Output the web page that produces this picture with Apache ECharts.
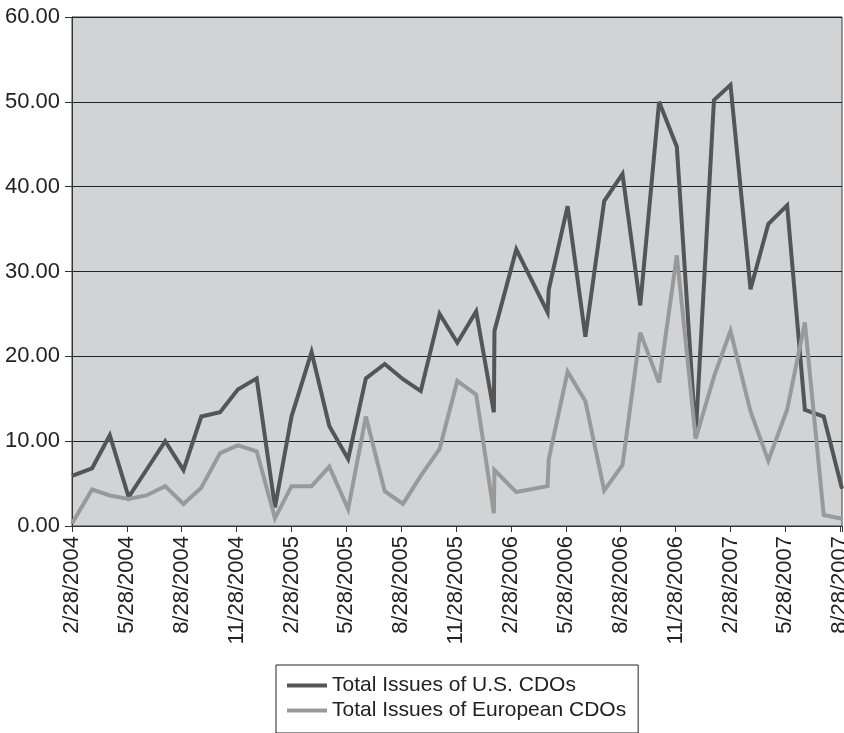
<!DOCTYPE html>
<html>
<head>
<meta charset="utf-8">
<script src="https://cdn.jsdelivr.net/npm/echarts@6/dist/echarts.min.js"></script>
<style>
  html, body { margin: 0; padding: 0; background: #ffffff; }
  #chart { width: 844px; height: 733px; }
</style>
</head>
<body>
<div id="chart"></div>
<script>
// Issue dates (mostly month-ends, with a few extra reporting dates)
const dates = [
  '2004-02-28', '2004-03-31', '2004-04-30', '2004-05-31', '2004-06-30', '2004-07-31',
  '2004-08-31', '2004-09-30', '2004-10-31', '2004-11-30', '2004-12-31', '2005-01-31',
  '2005-02-28', '2005-03-31', '2005-04-30', '2005-05-31', '2005-06-30', '2005-07-31',
  '2005-08-31', '2005-09-30', '2005-10-31', '2005-11-30', '2005-12-31', '2006-01-30',
  '2006-01-31', '2006-03-06', '2006-04-28', '2006-04-30', '2006-05-31', '2006-06-30',
  '2006-07-31', '2006-08-31', '2006-09-30', '2006-10-31', '2006-11-30', '2006-12-31',
  '2007-01-31', '2007-02-28', '2007-03-31', '2007-04-30', '2007-05-31', '2007-06-30',
  '2007-07-31', '2007-08-31'
];

// Total issues of U.S. CDOs
const usIssues = [
  5.9, 6.8, 10.7, 3.4, 6.6, 10.0,
  6.6, 12.9, 13.4, 16.1, 17.4, 2.2,
  12.9, 20.5, 11.8, 7.9, 17.4, 19.1,
  17.3, 15.9, 25.0, 21.6, 25.3, 13.4,
  23.0, 32.6, 25.2, 27.9, 37.7, 22.3,
  38.3, 41.5, 26.0, 50.0, 44.7, 10.6,
  50.2, 52.0, 27.9, 35.6, 37.8, 13.7,
  12.9, 4.4
];

// Total issues of European CDOs
const euIssues = [
  0.3, 4.3, 3.6, 3.2, 3.6, 4.7,
  2.6, 4.5, 8.6, 9.5, 8.8, 0.9,
  4.7, 4.7, 7.0, 2.0, 12.9, 4.1,
  2.6, 5.9, 9.1, 17.1, 15.5, 1.5,
  6.6, 4.0, 4.7, 7.9, 18.2, 14.7,
  4.2, 7.2, 22.8, 16.9, 31.9, 10.3,
  17.6, 23.0, 13.5, 7.7, 13.7, 24.0,
  1.3, 0.85
];

const seriesNames = ['Total Issues of U.S. CDOs', 'Total Issues of European CDOs'];
const yTicks = [0, 10, 20, 30, 40, 50, 60];

// Axis origin: 2/28/2004; one unit = one month, ticks every quarter on the 28th
const ORIGIN_YEAR = 2004, ORIGIN_MONTH = 2, TICK_DAY = 28;

function monthPos(s) {
  const [y, m, d] = s.split('-').map(Number);
  const dim = new Date(y, m, 0).getDate();
  return (y - ORIGIN_YEAR) * 12 + (m - ORIGIN_MONTH) + (d - TICK_DAY) / dim;
}

function tickLabel(v) {
  if (Math.abs(v / 3 - Math.round(v / 3)) > 1e-6) return '';
  const total = Math.round(v) + (ORIGIN_MONTH - 1);
  const year = ORIGIN_YEAR + Math.floor(total / 12);
  const month = (total % 12) + 1;
  return month + '/' + TICK_DAY + '/' + year;
}

const xs = dates.map(monthPos);
const usData = xs.map((x, i) => [x, usIssues[i]]);
const euData = xs.map((x, i) => [x, euIssues[i]]);

const FONT = '"Liberation Sans", Arial, Helvetica, sans-serif';
const chart = echarts.init(document.getElementById('chart'), null, { renderer: 'canvas' });

chart.setOption({
  animation: false,
  backgroundColor: '#ffffff',
  textStyle: { fontFamily: FONT },
  grid: {
    left: 72, right: 2, top: 17, bottom: 207,
    outerBoundsMode: 'none',
    containLabel: false,
    show: true,
    backgroundColor: '#d2d3d5',
    borderColor: '#3a3a3a',
    borderWidth: 1
  },
  legend: {
    orient: 'vertical',
    left: 276,
    top: 665,
    backgroundColor: '#ffffff',
    borderColor: '#222222',
    borderWidth: 1,
    borderRadius: 0,
    padding: [10, 12, 12, 11],
    itemGap: 4,
    itemWidth: 40,
    itemHeight: 4,
    icon: 'rect',
    textStyle: { fontSize: 21, color: '#222222', fontFamily: FONT },
    data: seriesNames
  },
  xAxis: {
    type: 'value',
    min: 0,
    max: xs[xs.length - 1],
    interval: 3,
    axisLine: { show: true, lineStyle: { color: '#333333', width: 1 } },
    axisTick: { show: true, length: 6, lineStyle: { color: '#333333' } },
    splitLine: { show: false },
    axisLabel: {
      rotate: 90,
      margin: 10,
      fontSize: 22,
      color: '#222222',
      fontFamily: FONT,
      formatter: tickLabel
    }
  },
  yAxis: {
    type: 'value',
    min: yTicks[0],
    max: yTicks[yTicks.length - 1],
    interval: yTicks[1] - yTicks[0],
    axisLine: { show: true, lineStyle: { color: '#333333', width: 1 } },
    axisTick: { show: true, length: 7, lineStyle: { color: '#333333' } },
    splitLine: { show: true, lineStyle: { color: '#222222', width: 1 } },
    axisLabel: {
      margin: 12,
      fontSize: 22,
      color: '#222222',
      fontFamily: FONT,
      formatter: v => v.toFixed(2)
    }
  },
  series: [
    {
      name: seriesNames[0],
      type: 'line',
      data: usData,
      symbol: 'none',
      color: '#555555',
      lineStyle: { color: '#555555', width: 4, join: 'miter', miterLimit: 4 }
    },
    {
      name: seriesNames[1],
      type: 'line',
      data: euData,
      symbol: 'none',
      color: '#999999',
      lineStyle: { color: '#999999', width: 4, join: 'miter', miterLimit: 4 }
    }
  ]
});
</script>
</body>
</html>
